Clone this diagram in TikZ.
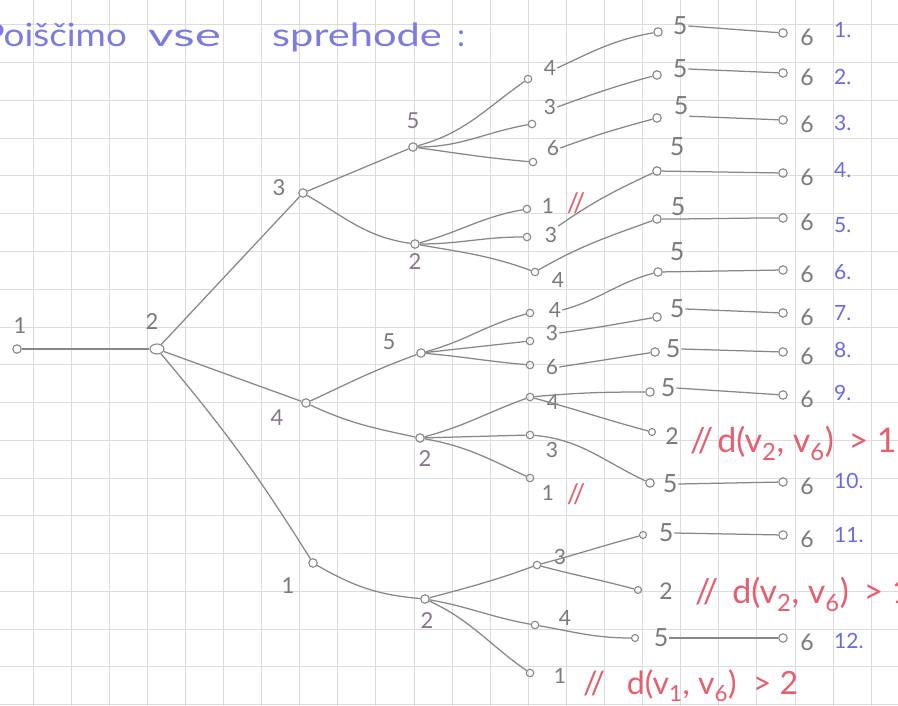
\documentclass[tikz,border=0pt]{standalone}
\usepackage{fontspec}
\setmainfont{Lato}
\usetikzlibrary{shapes.geometric}
\definecolor{penc}{HTML}{878787}
\definecolor{labc}{HTML}{7A7A7A}
\definecolor{purc}{HTML}{86768C}
\definecolor{gridc}{HTML}{DCDCE0}
\definecolor{redc}{HTML}{E65F6E}
\definecolor{bluec}{HTML}{6A6AE2}
\definecolor{ttlc}{HTML}{7C7CE0}
\begin{document}
\begin{tikzpicture}[x=1pt,y=-1pt,
  wire/.style={draw=penc, line width=1.25pt},
  vtx/.style={circle, draw=penc, line width=1.1pt, inner sep=0pt, minimum size=8.5pt},
  lthree/.style={text=labc, font=\fontsize{22}{22}\selectfont, inner sep=1pt},
  lthreep/.style={text=purc, font=\fontsize{22}{22}\selectfont, inner sep=1pt},
  lfour/.style={text=labc, font=\fontsize{21}{21}\selectfont, inner sep=1pt},
  lfive/.style={text=labc, font=\fontsize{25}{25}\selectfont, inner sep=1pt},
  lsix/.style={text=labc, font=\fontsize{23}{23}\selectfont, inner sep=1pt},
  enum/.style={text=bluec, font=\fontsize{21}{21}\selectfont, inner sep=0pt, anchor=west},
  redt/.style={text=redc, font=\fontsize{34}{34}\selectfont, inner sep=0pt, anchor=base west},
  redb/.style={text=redc, font=\fontsize{32}{32}\selectfont, inner sep=0pt, anchor=base west},
  redm/.style={text=redc, font=\fontsize{27}{27}\selectfont, inner sep=0pt},
  ttl/.style={text=ttlc, font=\fontsize{32}{32}\selectfont, inner sep=0pt}
]
\fill[white] (0,0) rectangle (898,706);
\useasboundingbox (0,0) rectangle (898,706);
% grid paper
\foreach \i in {0,...,22} \draw[gridc, line width=1pt] ({33+38.1*\i},0) -- ++(0,706);
\foreach \j in {0,...,18} \draw[gridc, line width=1pt] (0,{25+37.75*\j}) -- ++(898,0);

% title
\node[ttl, anchor=base east] (t1) at (127,47) {\scalebox{1.15}[1]{Poiščimo}};
\node[ttl, anchor=base west] (t2) at (148,47) {\scalebox{1.55}[1]{vse}};
\node[ttl, anchor=base west] (t3) at (272,47) {\scalebox{1.3}[1]{sprehode}};
\node[ttl, anchor=base west] (t4) at (457,47) {:};

% level 1-2
\node[vtx] (r1) at (17,349) {};
\node[lthree] (r1l) at (20,326) {1};
\node[vtx, ellipse, minimum width=14pt, minimum height=10pt] (r2) at (157,349) {};
\node[lthree] (r2l) at (152,322) {2};
% level 3
\node[vtx] (a3) at (303,193) {};  \node[lthree] (a3l) at (279,188) {3};
\node[vtx] (a4) at (306,403) {};  \node[lthreep] (a4l) at (277,418) {4};
\node[vtx] (a1) at (313,563) {};  \node[lthree] (a1l) at (288,586) {1};
% level 4
\node[vtx] (b5) at (413,147) {};  \node[lthreep] (b5l) at (413,121) {5};
\node[vtx] (b2) at (415,244) {};  \node[lthreep] (b2l) at (415,262) {2};
\node[vtx] (c5) at (421,353) {};  \node[lthree] (c5l) at (389,342) {5};
\node[vtx] (c2) at (420,438) {};  \node[lthreep] (c2l) at (425,459) {2};
\node[vtx] (d2) at (425,599) {};  \node[lthreep] (d2l) at (427,621) {2};
% level 5
\node[vtx, minimum size=7.5pt] (e4) at (528,79) {};  \node[lfour] (e4l) at (550,68) {4};
\node[vtx, minimum size=7.5pt] (e3) at (532,124) {}; \node[lfour] (e3l) at (550,107) {3};
\node[vtx, minimum size=7.5pt] (e6) at (533,162) {}; \node[lfour] (e6l) at (553,148) {6};
\node[vtx, minimum size=7.5pt] (f1) at (527,209) {}; \node[lfour] (f1l) at (548,206) {1};
\node[vtx, minimum size=7.5pt] (f3) at (527,237) {}; \node[lfour] (f3l) at (551,235) {3};
\node[vtx, minimum size=7.5pt] (f4) at (535,272) {}; \node[lfour] (f4l) at (558,280) {4};
\node[vtx, minimum size=7.5pt] (g4) at (530,313) {}; \node[lfour] (g4l) at (555,310) {4};
\node[vtx, minimum size=7.5pt] (g3) at (530,341) {}; \node[lfour] (g3l) at (552,333) {3};
\node[vtx, minimum size=7.5pt] (g6) at (530,365) {}; \node[lfour] (g6l) at (552,367) {6};
\node[vtx, minimum size=7.5pt] (h4) at (530,397) {}; \node[lfour] (h4l) at (553,402) {4};
\node[vtx, minimum size=7.5pt] (h3) at (530,435) {}; \node[lfour] (h3l) at (552,450) {3};
\node[vtx, minimum size=7.5pt] (h1) at (530,478) {}; \node[lfour] (h1l) at (548,493) {1};
\node[vtx, minimum size=7.5pt] (i3) at (537,565) {}; \node[lfour] (i3l) at (560,557) {3};
\node[vtx, minimum size=7.5pt] (i4) at (535,625) {}; \node[lfour] (i4l) at (565,618) {4};
\node[vtx, minimum size=7.5pt] (i1) at (530,673) {}; \node[lfour] (i1l) at (560,676) {1};
% level 6
\node[vtx] (p1) at (658,32) {};   \node[lfive] (p1l) at (680,26) {5};
\node[vtx] (p2) at (657,75) {};   \node[lfive] (p2l) at (680,69) {5};
\node[vtx] (p3) at (657,118) {};  \node[lfive] (p3l) at (681,106) {5};
\node[vtx] (p4) at (657,171) {};  \node[lfive] (p4l) at (677,147) {5};
\node[vtx] (p5) at (657,219) {};  \node[lfive] (p5l) at (678,207) {5};
\node[vtx] (p6) at (658,272) {};  \node[lfive] (p6l) at (677,252) {5};
\node[vtx] (p7) at (657,317) {};  \node[lfive] (p7l) at (677,309) {5};
\node[vtx] (p8) at (655,352) {};  \node[lfive] (p8l) at (673,349) {5};
\node[vtx] (p9) at (650,392) {};  \node[lfive] (p9l) at (668,388) {5};
\node[vtx, minimum size=7pt] (q1) at (652,432) {};  \node[lsix] (q1l) at (672,436) {2};
\node[vtx] (p10) at (650,483) {}; \node[lfive] (p10l) at (670,484) {5};
\node[vtx, minimum size=7pt] (p11) at (643,535) {}; \node[lfive] (p11l) at (666,533) {5};
\node[vtx, minimum size=7pt] (q2) at (638,590) {};  \node[lsix] (q2l) at (666,591) {2};
\node[vtx, minimum size=7pt] (p12) at (635,638) {}; \node[lfive] (p12l) at (661,638) {5};
% level 7 and enumeration
\foreach \k/\y/\e in {1/33/30, 2/73/77, 3/120/123, 4/173/170, 5/218/225, 6/270/272, 7/313/313, 8/352/350, 9/395/393, 10/482/481, 11/535/535, 12/638/641} {
  \node[vtx] (s\k) at (783,\y) {};
  \node[lsix] (s\k l) at (807,\y+4) {6};
  \node[enum] (n\k) at (834,\e) {\k.};
}

% connectors
\draw[wire] (r1) -- (r2);
\draw[wire] (r2) -- (a3);
\draw[wire] (r2) -- (a4);
\draw[wire] (r2) to[bend left=4] (a1);
\draw[wire] (a3) -- (b5);
\draw[wire] (a3) to[out=-30,in=172] (b2);
\draw[wire] (a4) to[out=25,in=200] (c5);
\draw[wire] (a4) to[out=-25,in=168] (c2);
\draw[wire] (a1) to[out=-30,in=175] (d2);
\draw[wire] (b5) to[out=15,in=215] (e4);
\draw[wire] (b5) to[out=0,in=190] (e3);
\draw[wire] (b5) to[out=-8,in=175] (e6);
\draw[wire] (b2) to[out=15,in=190] (f1);
\draw[wire] (b2) to[out=0,in=180] (f3);
\draw[wire] (b2) to[out=-10,in=160] (f4);
\draw[wire] (c5) to[out=15,in=195] (g4);
\draw[wire] (c5) -- (g3);
\draw[wire] (c5) to[out=-5,in=175] (g6);
\draw[wire] (c2) to[out=15,in=200] (h4);
\draw[wire] (c2) -- (h3);
\draw[wire] (c2) to[out=-10,in=155] (h1);
\draw[wire] (d2) to[out=15,in=200] (i3);
\draw[wire] (d2) to[out=-10,in=170] (i4);
\draw[wire] (d2) to[out=-25,in=145] (i1);
\draw[wire] (e4l.east) to[out=25,in=190] (p1);
\draw[wire] (e3l.east) to[out=20,in=195] (p2);
\draw[wire] (e6l.east) to[out=20,in=195] (p3);
\draw[wire] (f3l.north east) to[out=35,in=205] (p4);
\draw[wire] (f4) to[out=30,in=200] (p5);
\draw[wire] (g4l.east) to[out=15,in=195] (p6);
\draw[wire] (g3l.east) to[out=8,in=190] (p7);
\draw[wire] (g6l.east) -- (p8);
\draw[wire] (h4) to[out=5,in=180] (p9);
\draw[wire] (h4) to[out=-15,in=165] (q1);
\draw[wire] (h3) to[out=-5,in=155] (p10);
\draw[wire] (i3) to[out=15,in=195] (p11);
\draw[wire] (i3) to[out=-15,in=165] (q2);
\draw[wire] (i4) to[out=-10,in=180] (p12);
\draw[wire] (p1l.east) -- (s1);
\draw[wire] (p2l.east) -- (s2);
\draw[wire] (p3l.south east) -- (s3);
\draw[wire] (p4) -- (s4);
\draw[wire] (p5) to[out=0,in=180] (s5);
\draw[wire] (p6) -- (s6);
\draw[wire] (p7l.east) -- (s7);
\draw[wire] (p8l.east) -- (s8);
\draw[wire] (p9l.east) -- (s9);
\draw[wire] (p10l.east) -- (s10);
\draw[wire] (p11l.east) -- (s11);
\draw[wire] (p12l.east) -- (s12);

% red annotations
\node[redm] (x1) at (576,203) {//};
\node[redm] (x2) at (576,494) {//};
\node[redb] (x3) at (583,694) {//\hspace{22pt}d(v\textsubscript{1}, v\textsubscript{6})\hspace{8pt} > 2};
\node[redt] (x4) at (690,452) {//\hspace{4pt}d(v\textsubscript{2}, v\textsubscript{6})\hspace{6pt} > 1};
\node[redt] (x5) at (695,603) {//\hspace{14pt}d(v\textsubscript{2}, v\textsubscript{6})\hspace{6pt} > 1};
\end{tikzpicture}
\end{document}
